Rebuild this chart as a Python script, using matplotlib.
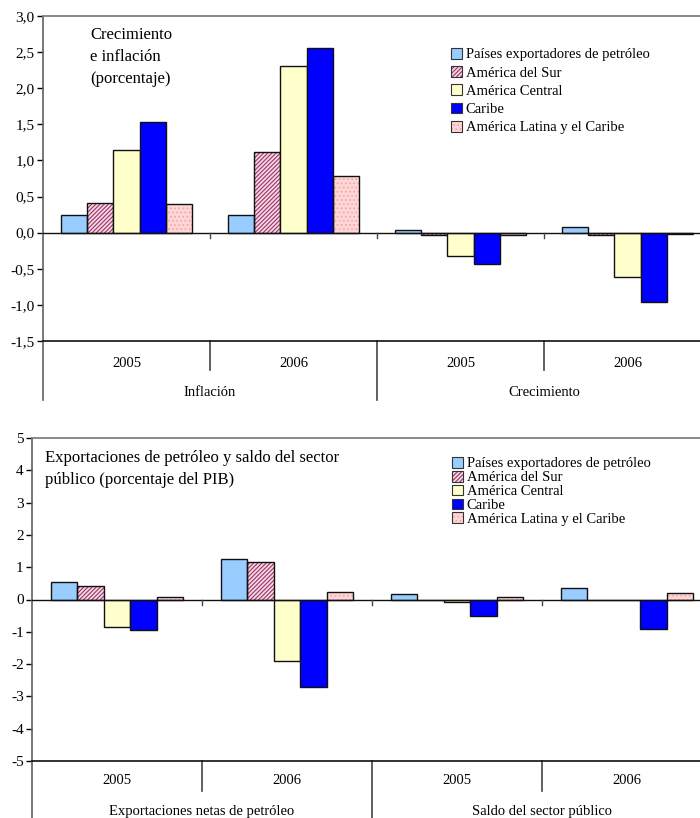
import matplotlib
matplotlib.use('Agg')
import matplotlib.pyplot as plt
from matplotlib.patches import Patch

plt.rcParams['font.family'] = ['Liberation Serif', 'DejaVu Serif']
plt.rcParams['hatch.linewidth'] = 0.8

# ---- data ----
series = ['Países exportadores de petróleo', 'América del Sur', 'América Central',
          'Caribe', 'América Latina y el Caribe']
years = ['2005', '2006', '2005', '2006']

# top chart: Inflación 2005, 2006, Crecimiento 2005, 2006
top_groups = ['Inflación', 'Crecimiento']
top_paises = [0.24, 0.24, 0.03, 0.08]
top_sur = [0.41, 1.12, -0.03, -0.03]
top_central = [1.14, 2.31, -0.33, -0.61]
top_caribe = [1.53, 2.55, -0.44, -0.96]
top_alc = [0.39, 0.79, -0.03, -0.02]
top_ticks = [-1.5, -1.0, -0.5, 0.0, 0.5, 1.0, 1.5, 2.0, 2.5, 3.0]

# bottom chart: Exportaciones netas 2005, 2006, Saldo 2005, 2006
bot_groups = ['Exportaciones netas de petróleo', 'Saldo del sector público']
bot_paises = [0.54, 1.25, 0.17, 0.37]
bot_sur = [0.41, 1.15, -0.02, -0.02]
bot_central = [-0.85, -1.90, -0.09, 0.0]
bot_caribe = [-0.93, -2.72, -0.51, -0.91]
bot_alc = [0.07, 0.24, 0.08, 0.19]
bot_ticks = [-5, -4, -3, -2, -1, 0, 1, 2, 3, 4, 5]

# ---- styles ----
styles = [
    dict(fc='#99ccff', hatch=None, hc=None),
    dict(fc='#f6d8e4', hatch='////////', hc='#993366'),
    dict(fc='#ffffcc', hatch=None, hc=None),
    dict(fc='#0000ff', hatch=None, hc=None),
    dict(fc='#ffd6d6', hatch='....', hc='#f2a8a8'),
]

W, H = 700, 818
fig = plt.figure(figsize=(W / 100, H / 100), dpi=100)


def px_rect(left, top, right, bottom):
    return [left / W, 1 - bottom / H, (right - left) / W, (bottom - top) / H]


def draw_bars(ax, values_list):
    bw = 0.156
    x = [i + 0.5 for i in range(4)]
    handles = []
    for k, vals in enumerate(values_list):
        st = styles[k]
        pos = [xi + (k - 2) * bw for xi in x]
        if st['hatch']:
            ax.bar(pos, vals, bw, color=st['fc'], edgecolor=st['hc'], hatch=st['hatch'],
                   linewidth=0, zorder=2)
            ax.bar(pos, vals, bw, facecolor='none', edgecolor='#111111', linewidth=1.0, zorder=3)
            h = (Patch(facecolor=st['fc'], edgecolor=st['hc'], hatch=st['hatch'], linewidth=0),
                 Patch(facecolor='none', edgecolor='#333333', linewidth=0.8))
        else:
            ax.bar(pos, vals, bw, color=st['fc'], edgecolor='#111111', linewidth=1.0, zorder=3)
            h = Patch(facecolor=st['fc'], edgecolor='#333333', linewidth=0.8)
        handles.append(h)
    return handles


def style_axes(ax, ticks, fmt, ax_h_px, lab_y, div_short, div_long, tick_px):
    ax.set_xlim(0, 4)
    ax.set_ylim(ticks[0], ticks[-1])
    ax.set_yticks(ticks)
    ax.set_yticklabels([fmt(t) for t in ticks], fontsize=11)
    ax.tick_params(axis='y', direction='out', length=4, width=1, pad=2)
    ax.set_xticks([])
    ax.spines['right'].set_visible(False)
    ax.spines['top'].set_color('#808080')
    ax.spines['top'].set_linewidth(1.3)
    ax.spines['left'].set_color('#606060')
    ax.spines['left'].set_linewidth(1.2)
    ax.spines['bottom'].set_color('#111111')
    ax.spines['bottom'].set_linewidth(1.2)
    ax.axhline(0, color='#111111', linewidth=1.0, zorder=4)
    tr = ax.get_xaxis_transform()
    # small ticks under the zero line
    rng = ticks[-1] - ticks[0]
    d = tick_px / ax_h_px * rng
    for xd in [1, 2, 3]:
        ax.plot([xd, xd], [0, -d], color='#444444', linewidth=1, zorder=4)
    # category axis below the plot
    ax.plot([0, 0], [0, -div_long / ax_h_px], transform=tr, color='#606060',
            linewidth=1.2, clip_on=False)
    for xd in [1, 3]:
        ax.plot([xd, xd], [0, -div_short / ax_h_px], transform=tr, color='#444444',
                linewidth=1.2, clip_on=False)
    ax.plot([2, 2], [0, -div_long / ax_h_px], transform=tr, color='#444444',
            linewidth=1.2, clip_on=False)
    for i, y in enumerate(years):
        ax.text(i + 0.5, -lab_y / ax_h_px, y, transform=tr, ha='center', va='center',
                fontsize=10.5)
    return tr


def fmt_dec(t):
    return ('%.1f' % t).replace('.', ',')


def fmt_int(t):
    return '%d' % t


# ---- top chart ----
ax1 = fig.add_axes(px_rect(43, 16, 711, 341))
h1 = draw_bars(ax1, [top_paises, top_sur, top_central, top_caribe, top_alc])
tr1 = style_axes(ax1, top_ticks, fmt_dec, 325, 23, 29, 59, 5)
for i, g in enumerate(top_groups):
    ax1.text(1 + 2 * i, -52 / 325, g, transform=tr1, ha='center', va='center', fontsize=10.5)
fig.text(90 / W, 1 - 27 / H, 'Crecimiento\ne inflación\n(porcentaje)', ha='left', va='top',
         fontsize=12, linespacing=1.5)
fig.legend(h1, series, loc='upper left', bbox_to_anchor=(451 / W, 1 - 48 / H),
           frameon=False, fontsize=10.5, handlelength=0.75, handleheight=0.75,
           handletextpad=0.25, labelspacing=0.33, borderpad=0, borderaxespad=0)

# ---- bottom chart ----
ax2 = fig.add_axes(px_rect(32, 438, 712, 761))
h2 = draw_bars(ax2, [bot_paises, bot_sur, bot_central, bot_caribe, bot_alc])
tr2 = style_axes(ax2, bot_ticks, fmt_int, 323, 20, 30, 60, 5)
for i, g in enumerate(bot_groups):
    ax2.text(1 + 2 * i, -51 / 323, g, transform=tr2, ha='center', va='center', fontsize=10.5)
fig.text(45 / W, 1 - 450 / H, 'Exportaciones de petróleo y saldo del sector\npúblico (porcentaje del PIB)',
         ha='left', va='top', fontsize=12, linespacing=1.5)
fig.legend(h2, series, loc='upper left', bbox_to_anchor=(452 / W, 1 - 457 / H),
           frameon=False, fontsize=10.5, handlelength=0.75, handleheight=0.75,
           handletextpad=0.25, labelspacing=0.03, borderpad=0, borderaxespad=0)

fig.savefig('out.png', dpi=100)
